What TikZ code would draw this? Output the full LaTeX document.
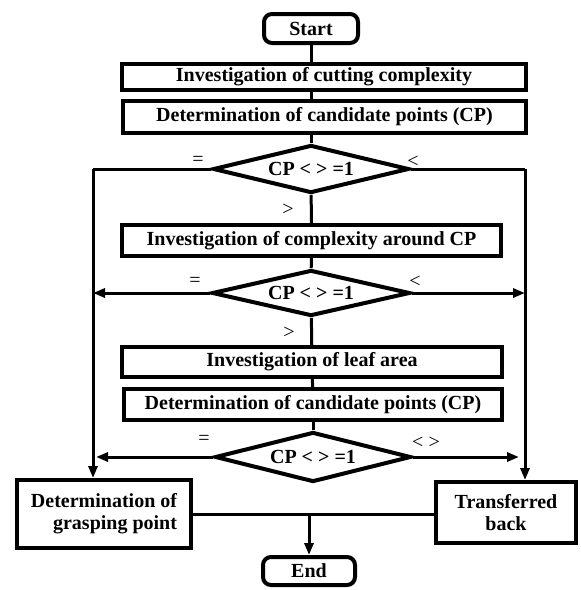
\documentclass[tikz,border=0pt]{standalone}
\usepackage{fontspec}
\setmainfont{Liberation Serif}
\usetikzlibrary{positioning, arrows.meta, shapes.geometric}

\begin{document}
\begin{tikzpicture}[
  x=0.5pt, y=-0.5pt,
  font=\fontsize{10}{11}\selectfont\bfseries,
  box/.style={draw, line width=2pt, align=center, inner sep=1pt},
  term/.style={box, rounded corners=4pt},
  cond/.style={diamond, draw, line width=2pt, inner sep=0pt, aspect=3.8},
  lbl/.style={font=\fontsize{10}{11}\selectfont, inner sep=0pt},
  line/.style={line width=1.5pt},
  flow/.style={line, -{Triangle[length=6pt, width=4.5pt]}}
]
\useasboundingbox (0,0) rectangle (581,590);
% main column
\node[term, minimum width=47pt, minimum height=14.5pt] (start) at (311,28.5) {Start};
\node[box, minimum width=202pt, minimum height=13pt] (cut) at (324,77) {Investigation of cutting complexity};
\node[box, minimum width=201.5pt, minimum height=16pt] (cand1) at (324.5,117) {Determination of candidate points (CP)};
\node[cond, minimum width=98pt, minimum height=24pt] (test1) at (311,169) {CP < > =1};
\node[box, minimum width=189.5pt, minimum height=15.5pt] (around) at (311.5,240.5) {Investigation of complexity around CP};
\node[cond, minimum width=99pt, minimum height=23pt] (test2) at (311,293) {CP < > =1};
\node[box, minimum width=190pt, minimum height=15pt] (leaf) at (312,362) {Investigation of leaf area};
\node[box, minimum width=189pt, minimum height=15.5pt] (cand2) at (313,404.5) {Determination of candidate points (CP)};
\node[cond, minimum width=98pt, minimum height=25pt] (test3) at (313,457) {CP < > =1};
% results
\node[box, align=right, minimum width=87pt, minimum height=34pt] (grasp) at (104,514) {Determination of\\ grasping point};
\node[box, minimum width=70pt, minimum height=30.5pt] (back) at (506,512.5) {Transferred\\ back};
\node[term, minimum width=46pt, minimum height=14pt] (end) at (309,571) {End};
% side columns
\coordinate (lcol) at (93,169);
\coordinate (rcol) at (525,169);
% branch labels
\node[lbl] (eq1) at (198,161) {=};
\node[lbl] (lt1) at (413,162) {<};
\node[lbl] (gt1) at (288,210) {>};
\node[lbl] (eq2) at (195,282) {=};
\node[lbl] (lt2) at (415,282) {<};
\node[lbl] (gt2) at (289,333) {>};
\node[lbl] (eq3) at (204,440) {=};
\node[lbl] (ne3) at (426,443) {< >};
% connectors
\draw[line] (start) -- (start |- cut.north);
\draw[line] (start |- cut.south) -- (start |- cand1.north);
\draw[line] (start |- cand1.south) -- (test1);
\draw[line] (test1) -- (around);
\draw[line] (around) -- (test2);
\draw[line] (test2) -- (leaf);
\draw[line] (leaf) -- (cand2);
\draw[line] (cand2) -- (test3);
\draw[line] (test1.west) -- (lcol);
\draw[line] (test1.east) -- (rcol);
\draw[flow] (lcol) -- (lcol |- grasp.north);
\draw[flow] (rcol) -- (rcol |- back.north);
\draw[flow] (test2.west) -- (test2.west -| lcol);
\draw[flow] (test2.east) -- (test2.east -| rcol);
\draw[flow] (test3.west) -- ([xshift=1.5pt]test3.west -| lcol);
\draw[flow] (test3.east) -- ([xshift=-3pt]test3.east -| rcol);
\draw[line] (grasp.east) -- (grasp.east -| back.west);
\draw[flow] (grasp.east -| end.north) -- (end.north);
\end{tikzpicture}
\end{document}
